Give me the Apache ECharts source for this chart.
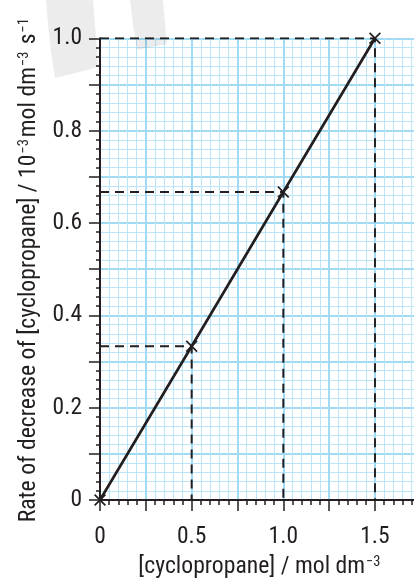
<!DOCTYPE html>
<html>
<head>
<meta charset="utf-8">
<title>Rate of decrease of cyclopropane</title>
<script src="https://cdn.jsdelivr.net/npm/echarts@6/dist/echarts.min.js"></script>
<style>
  html, body { margin: 0; padding: 0; background: #ffffff; }
  #chart { width: 414px; height: 583px; }
</style>
</head>
<body>
<div id="chart"></div>
<script>
// Measured points: concentration (mol dm^-3) against rate (10^-3 mol dm^-3 s^-1)
const concentration = [0, 0.5, 1.0, 1.5];
const rate = [0, 0.333, 0.667, 1.0];

// Tick labels that are printed on each axis
const xTickLabels = ['0', '0.5', '1.0', '1.5'];
const yTickLabels = ['0', '0.2', '0.4', '0.6', '0.8', '1.0'];

const FONT = "'Roboto Condensed', 'DejaVu Sans Condensed', sans-serif";
const WEIGHT = 450;
const INK = '#231f20';

function labelFor(list) {
  return function (value) {
    for (const s of list) {
      if (Math.abs(Number(s) - value) < 1e-6) return s;
    }
    return '';
  };
}

const pairs = concentration.map((c, i) => [c, rate[i]]);

// Dashed read-off lines from each measured point to both axes
const guideSeries = concentration.slice(1).map((c, k) => ({
  type: 'line',
  data: [[0, rate[k + 1]], [c, rate[k + 1]], [c, 0]],
  symbol: 'none',
  silent: true,
  z: 3,
  lineStyle: { color: INK, width: 2, type: [9, 6] }
}));

const crossPath = 'path://M0,1 L1,0 L5,4 L9,0 L10,1 L6,5 L10,9 L9,10 L5,6 L1,10 L0,9 L4,5 Z';

const rich = {
  t: { fontFamily: FONT, fontWeight: WEIGHT, fontSize: 23.7, color: INK, lineHeight: 27 },
  s: { fontFamily: FONT, fontWeight: WEIGHT, fontSize: 14.5, color: INK, lineHeight: 27, verticalAlign: 'top', padding: [1, 2, 0, 1] }
};

const option = {
  animation: false,
  backgroundColor: '#ffffff',
  grid: { left: 100, top: 38.3, bottom: 83, right: -6.8, outerBoundsMode: 'none', containLabel: false },
  xAxis: {
    type: 'value',
    min: 0,
    max: 1.75,
    interval: 0.25,
    axisLine: { show: true, onZero: false, lineStyle: { color: INK, width: 2 } },
    axisTick: { show: true, length: 11, lineStyle: { color: INK, width: 1.5 } },
    minorTick: { show: true, splitNumber: 5, length: 5, lineStyle: { color: INK, width: 1.5 } },
    splitLine: { show: true, lineStyle: { color: '#a0daf3', width: 2 } },
    minorSplitLine: { show: true, lineStyle: { color: '#bce6f8', width: 1 } },
    axisLabel: {
      formatter: labelFor(xTickLabels),
      margin: 25,
      fontFamily: FONT,
      fontWeight: WEIGHT,
      fontSize: 23.5,
      color: INK,
      showMaxLabel: false
    },
    name: '{t|[cyclopropane] / mol dm}{s|−3}',
    nameLocation: 'middle',
    nameGap: 49,
    nameTextStyle: { rich: rich }
  },
  yAxis: {
    type: 'value',
    min: 0,
    max: 1.0,
    interval: 0.1,
    axisLine: { show: true, onZero: false, lineStyle: { color: INK, width: 2 } },
    axisTick: { show: true, length: 11, lineStyle: { color: INK, width: 1.5 } },
    minorTick: { show: true, splitNumber: 5, length: 4, lineStyle: { color: INK, width: 1.5 } },
    splitLine: { show: true, lineStyle: { color: '#a0daf3', width: 2 } },
    minorSplitLine: { show: true, lineStyle: { color: '#bce6f8', width: 1 } },
    axisLabel: {
      formatter: labelFor(yTickLabels),
      margin: 18,
      fontFamily: FONT,
      fontWeight: WEIGHT,
      fontSize: 23.5,
      color: INK
    },
    name: '{t|Rate of decrease of [cyclopropane] / 10}{s|−3}{t|mol dm}{s|−3}{t| s}{s|−1}',
    nameLocation: 'middle',
    nameGap: 57,
    nameTextStyle: { rich: rich }
  },
  graphic: [
    {
      type: 'polygon',
      z: 100,
      silent: true,
      shape: { points: [[46, 0], [93, 0], [95, 25], [97, 50], [98, 67], [76, 73], [55, 78], [51, 52], [48, 25]] },
      style: { fill: 'rgba(0,0,0,0.075)' }
    },
    {
      type: 'polygon',
      z: 100,
      silent: true,
      shape: { points: [[130, 0], [163, 0], [165, 22], [167, 44], [152, 47], [137, 50], [133, 25]] },
      style: { fill: 'rgba(0,0,0,0.075)' }
    }
  ],
  series: guideSeries.concat([
    {
      type: 'line',
      data: pairs,
      z: 5,
      symbol: crossPath,
      symbolSize: 12,
      showAllSymbol: true,
      itemStyle: { color: INK },
      lineStyle: { color: INK, width: 2.7 }
    }
  ])
};

const chart = echarts.init(document.getElementById('chart'), null, { renderer: 'canvas' });
chart.setOption(option);
</script>
</body>
</html>
